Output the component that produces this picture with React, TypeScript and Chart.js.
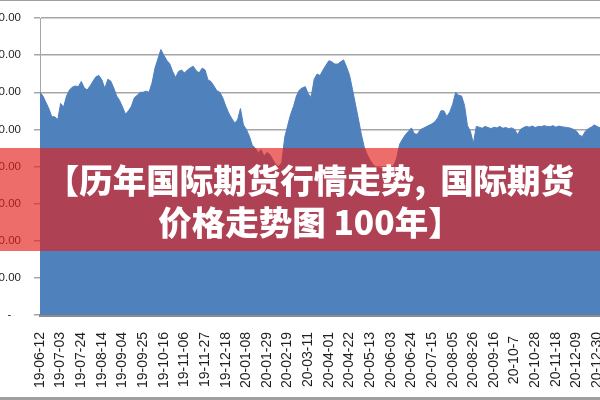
import React, { useEffect, useRef } from 'react';
import { Chart, registerables } from 'chart.js';

Chart.register(...registerables);

// Tick labels shown on the category axis (one every 7 samples)
const tickLabels: string[] = [
  '19-06-12', '19-07-03', '19-07-24', '19-08-14', '19-09-04', '19-09-25', '19-10-16',
  '19-11-06', '19-11-27', '19-12-18', '20-01-08', '20-01-29', '20-02-19', '20-03-11',
  '20-04-01', '20-04-22', '20-05-13', '20-06-03', '20-06-24', '20-07-15', '20-08-05',
  '20-08-26', '20-09-16', '20-10-7 ', '20-10-28', '20-11-18', '20-12-09', '20-12-30',
];

// Price series, one sample every 3 days from 2019-06-12
const prices2019H2: number[] = [
  600, 590, 573, 556, 534, 534, 526, 570, 560, 590,
  606, 614, 617, 615, 629, 612, 606, 617, 630, 642,
  645, 633, 610, 635, 630, 612, 590, 578, 560, 541,
  550, 562, 585, 592, 600, 600, 603, 600, 625, 665,
  690, 715, 700, 686, 677, 656, 640, 656, 660, 652,
  660, 666, 670, 658, 652, 665, 660, 633, 629, 617,
  604, 600, 585, 563, 544, 530, 517,
];
const prices2020: number[] = [
  525, 556, 512,
  500, 482, 457, 450, 437, 445, 428, 438, 432, 418,
  405, 400, 410, 478, 510, 540, 562, 590, 606, 612,
  615, 595, 588, 635, 649, 645, 660, 673, 685, 682,
  676, 676, 682, 687, 668, 646, 608, 568, 528, 487,
  452, 432, 417, 405, 398, 396, 394, 392, 391, 396,
  402, 423, 460, 474, 486, 495, 504, 488, 487, 499,
  503, 507, 511, 515, 521, 532, 550, 550, 535, 547,
  568, 600, 592, 590, 565, 510, 495, 462, 508, 506,
  503, 508, 505, 502, 506, 504, 508, 503, 505, 502,
  504, 500, 486, 500, 505, 508, 506, 509, 505, 508,
  507, 510, 508, 507, 510, 506, 509, 507, 506, 505,
  503, 500, 495, 484, 481, 495, 502, 506, 512, 508,
  504, 506, 505,
];
const prices: number[] = [...prices2019H2, ...prices2020];

const yMin = 0;
const yMax = 800;
const yStep = 100;

const categories: string[] = prices.map((_, k) => (k % 7 === 0 ? tickLabels[k / 7] ?? '' : ''));

const titleLine1 = '【历年国际期货行情走势,国际期货';
const titleLine2 = '价格走势图 100年】';

export default function App() {
  const canvasRef = useRef<HTMLCanvasElement | null>(null);

  useEffect(() => {
    if (!canvasRef.current) return;
    const textColor = '#1f1f1f';
    const chart = new Chart(canvasRef.current, {
      type: 'line',
      data: {
        labels: categories,
        datasets: [
          {
            data: prices,
            fill: 'origin',
            backgroundColor: '#4F81BD',
            borderColor: '#4F81BD',
            borderWidth: 1,
            pointRadius: 0,
            tension: 0,
          },
        ],
      },
      options: {
        responsive: false,
        animation: false,
        devicePixelRatio: 1,
        layout: { padding: { top: 18, left: 0, right: 0, bottom: 0 } },
        plugins: { legend: { display: false }, tooltip: { enabled: false } },
        scales: {
          x: {
            z: 1,
            grid: { display: false },
            border: { display: true, color: '#8c8c8c', width: 3 },
            ticks: {
              autoSkip: false,
              minRotation: 90,
              maxRotation: 90,
              padding: 9,
              color: textColor,
              font: { family: 'Liberation Sans', size: 14 },
            },
            afterFit: (s: any) => {
              s.height = 85;
              s.paddingLeft = 0;
              s.paddingRight = 0;
            },
          },
          y: {
            min: yMin,
            max: yMax,
            ticks: {
              stepSize: yStep,
              padding: 13,
              color: textColor,
              font: { family: 'Liberation Sans', size: 11.5 },
              callback: (v: any) => (Number(v) === 0 ? '-   ' : Number(v).toFixed(2)),
            },
            grid: { color: '#a6a6a6', lineWidth: 1.5, tickLength: 6 },
            border: { display: true, color: '#a6a6a6', width: 1 },
            afterFit: (s: any) => {
              s.width = 60;
              s.paddingTop = 0;
              s.paddingBottom = 0;
            },
          },
        },
      },
    } as any);
    return () => chart.destroy();
  }, []);

  const [line1a, line1b] = titleLine1.split(',');

  return (
    <div
      style={{
        position: 'fixed',
        left: 0,
        top: 0,
        width: 600,
        height: 400,
        overflow: 'hidden',
        background: '#ffffff',
      }}
    >
      <div style={{ position: 'absolute', left: -20, top: 0, width: 626, height: 400 }}>
        <canvas ref={canvasRef} width={626} height={400} style={{ display: 'block' }} />
      </div>
      <div style={{ position: 'absolute', left: 0, top: 0, width: 600, height: 1, background: '#a0a0a0' }} />
      <div style={{ position: 'absolute', left: 0, top: 397, width: 600, height: 3, background: '#a0a0a0' }} />
      <div
        style={{
          position: 'absolute',
          left: 0,
          top: 148,
          width: 600,
          height: 103,
          boxSizing: 'border-box',
          paddingTop: 10,
          paddingLeft: 20,
          background: 'rgba(228,30,28,0.65)',
          color: '#ffffff',
          fontFamily: '"Noto Sans CJK SC", "Noto Sans", sans-serif',
          fontWeight: 900,
          fontSize: 33.5,
          lineHeight: '41.5px',
          textAlign: 'center',
          whiteSpace: 'nowrap',
        }}
      >
        <div>
          {line1a}
          <span style={{ marginRight: 14 }}>,</span>
          {line1b}
        </div>
        <div>{titleLine2}</div>
      </div>
    </div>
  );
}
